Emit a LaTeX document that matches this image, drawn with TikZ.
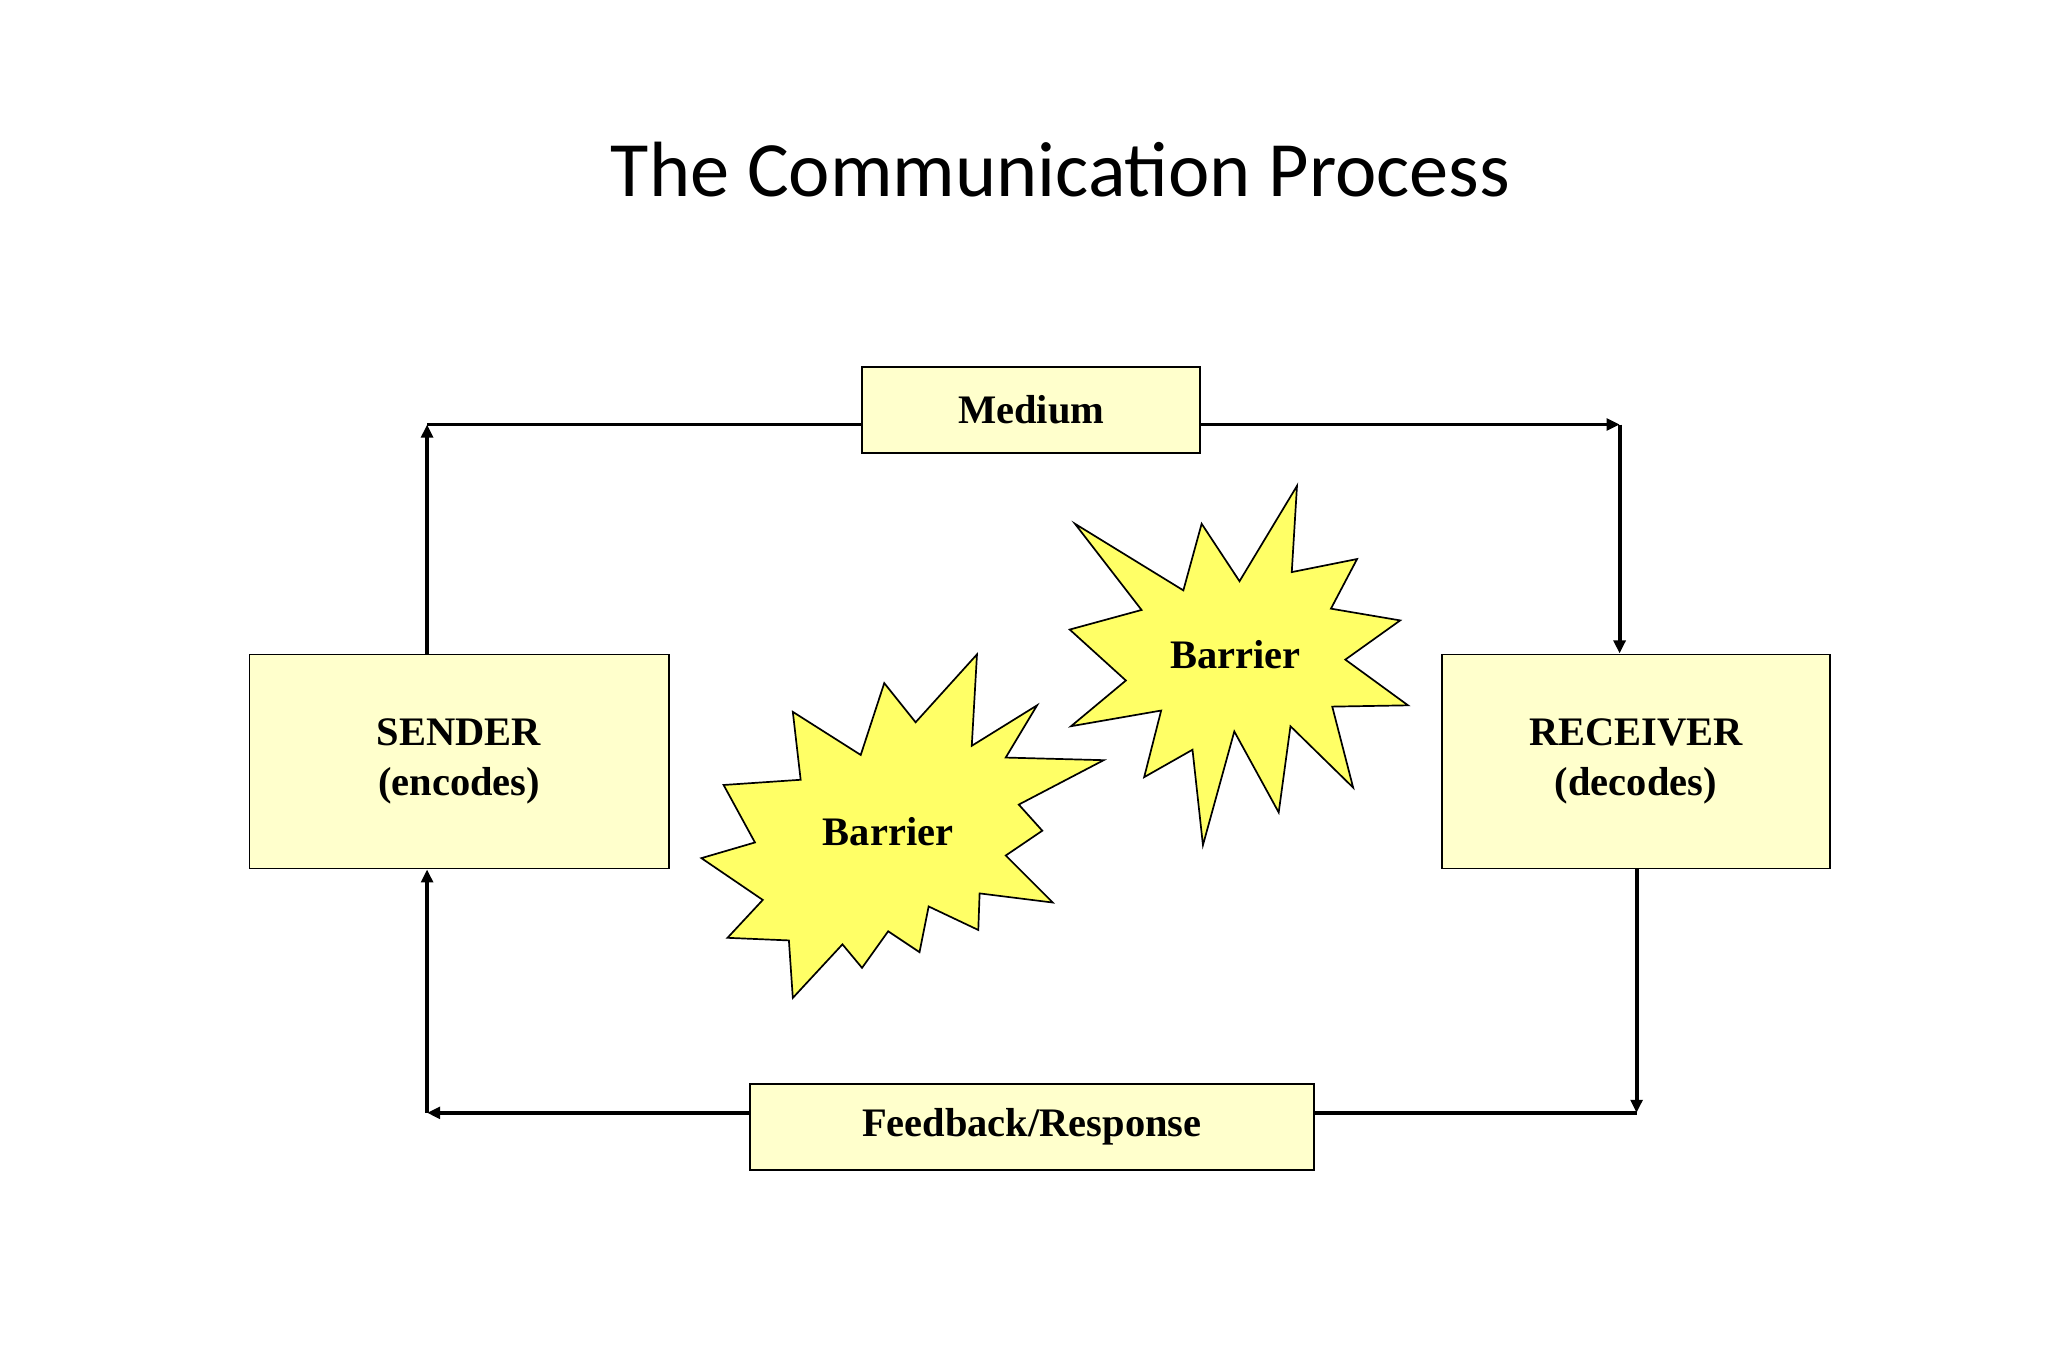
\documentclass[tikz,border=0pt]{standalone}
\usepackage{fontspec}
\setmainfont{Liberation Serif}
\newfontfamily\titlefont{Carlito}
\usetikzlibrary{arrows.meta}
\begin{document}
\begin{tikzpicture}[x=1pt,y=-1pt,
 box/.style={draw=black,line width=1.3pt,fill={rgb,255:red,255;green,255;blue,204},inner sep=0pt,font=\fontsize{31}{38}\selectfont\bfseries,align=center},
 star/.style={draw=black,line width=1.3pt,fill={rgb,255:red,255;green,255;blue,102}},
 conn/.style={line width=3pt},
 arr/.style={conn,-{Triangle[length=10pt,width=9pt]}},
 lbl/.style={font=\fontsize{31}{38}\selectfont\bfseries}]
\fill[white] (0,0) rectangle (1568,1045);
\useasboundingbox (0,0) rectangle (1568,1045);
\node[font=\titlefont\fontsize{60}{70}\selectfont] (title) at (812,130) {The Communication Process};
\node[box,minimum width=259pt,minimum height=66pt] (medium) at (789.5,314) {Medium};
\node[box,minimum width=321pt,minimum height=164pt] (sender) at (351.5,583) {SENDER\\(encodes)};
\node[box,minimum width=297pt,minimum height=164pt] (receiver) at (1252.5,583) {RECEIVER\\(decodes)};
\node[box,minimum width=432pt,minimum height=66pt] (feedback) at (790,863) {Feedback/Response};
\coordinate (tl) at (327,325);
\coordinate (tr) at (1240,325);
\coordinate (br) at (1253,852);
\coordinate (bl) at (327,852);
\draw[arr] (sender.north -| tl) -- (tl);
\draw[conn] (tl) -- (medium.west |- tl);
\draw[arr] (medium.east |- tr) -- (tr);
\draw[arr] (tr) -- (tr |- receiver.north);
\draw[arr] (br |- receiver.south) -- (br);
\draw[conn] (br) -- (feedback.east |- br);
\draw[arr] (feedback.west |- bl) -- (bl);
\draw[arr] (bl) -- (bl |- sender.south);
\draw[star] (607,545)--(659,578)--(677,523)--(701,553)--(748,501)--(744,571)--(794,540)--(770,580)--(845,582)--(780,616)--(798,636)--(770,655)--(806,691)--(750,684)--(749,712)--(711,694)--(704,729)--(680,713)--(660,741)--(645,723)--(607,764)--(604,720)--(557,718)--(584,689)--(537,657)--(578,645)--(554,601)--(613,597)--cycle;
\node[lbl] (b1) at (680,637) {Barrier};
\draw[star] (823,401)--(874,467)--(819,482)--(862,521)--(820,556)--(889,544)--(876,595)--(913,574)--(921,647)--(945,560)--(979,622)--(988,556)--(1036,603)--(1020,541)--(1078,540)--(1030,505)--(1072,475)--(1019,466)--(1039,428)--(989,438)--(993,372)--(949,445)--(920,401)--(906,452)--cycle;
\node[lbl] (b2) at (946,501) {Barrier};
\end{tikzpicture}
\end{document}
